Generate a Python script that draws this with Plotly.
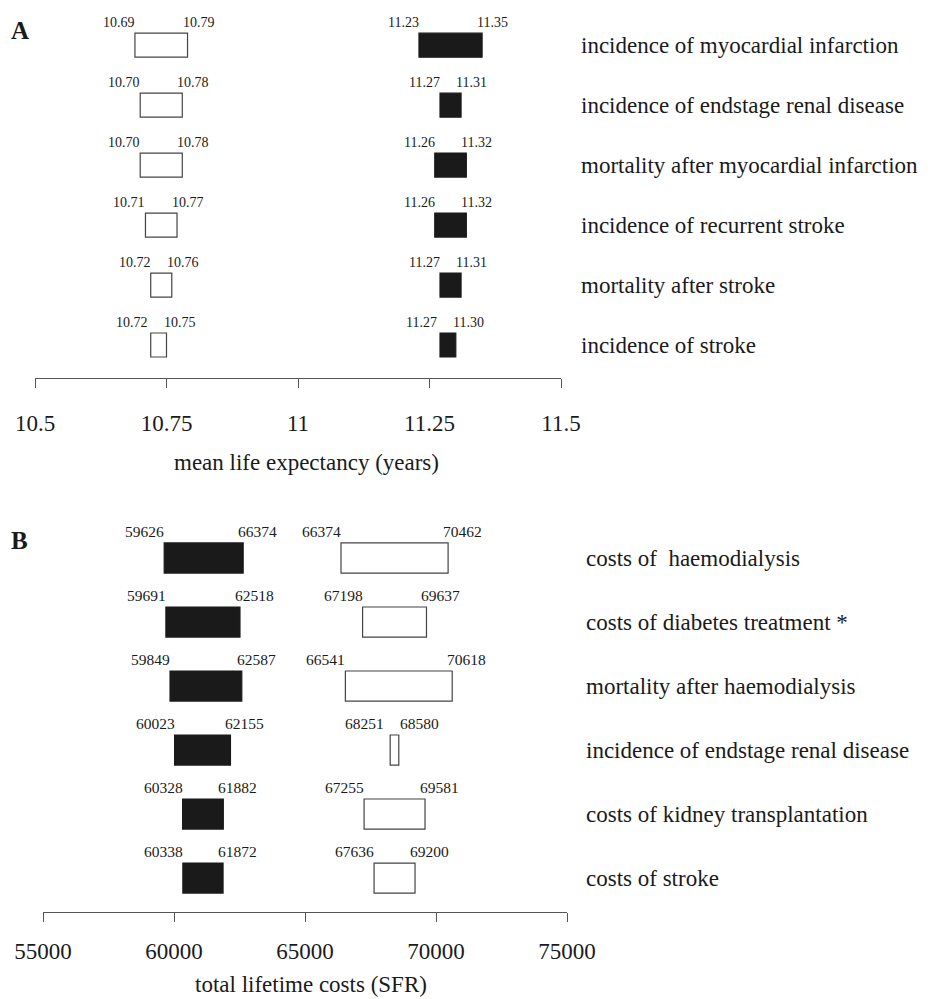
import plotly.graph_objects as go

# ---------------- Data ----------------
# Panel A: mean life expectancy (years)
a_params = ["incidence of myocardial infarction",
            "incidence of endstage renal disease",
            "mortality after myocardial infarction",
            "incidence of recurrent stroke",
            "mortality after stroke",
            "incidence of stroke"]
a_open_low = [10.69, 10.70, 10.70, 10.71, 10.72, 10.72]
a_open_high = [10.79, 10.78, 10.78, 10.77, 10.76, 10.75]
a_fill_low = [11.23, 11.27, 11.26, 11.26, 11.27, 11.27]
a_fill_high = [11.35, 11.31, 11.32, 11.32, 11.31, 11.30]
a_ticks = [10.5, 10.75, 11, 11.25, 11.5]
a_ticktext = ["10.5", "10.75", "11", "11.25", "11.5"]

# Panel B: total lifetime costs (SFR)
b_params = ["costs of  haemodialysis",
            "costs of diabetes treatment *",
            "mortality after haemodialysis",
            "incidence of endstage renal disease",
            "costs of kidney transplantation",
            "costs of stroke"]
b_fill_low = [59626, 59691, 59849, 60023, 60328, 60338]
b_fill_high = [62640, 62518, 62587, 62155, 61882, 61872]   # drawn bar ends
b_fill_low_lbl = ["59626", "59691", "59849", "60023", "60328", "60338"]
b_fill_high_lbl = ["66374", "62518", "62587", "62155", "61882", "61872"]  # printed labels
b_open_low = [66374, 67198, 66541, 68251, 67255, 67636]
b_open_high = [70462, 69637, 70618, 68580, 69581, 69200]
b_ticks = [55000, 60000, 65000, 70000, 75000]
b_ticktext = ["55000", "60000", "65000", "70000", "75000"]

# ---------------- Layout constants ----------------
OFF = 8                      # page body margin in the browser
W, H = 939 - OFF, 999 - OFF  # figure size so that it fits the window
FONT = "Liberation Serif"
INK = "#1a1a1a"


def px(xp):   # window x pixel -> paper fraction
    return (xp - OFF) / W


def py(yp):   # window y pixel -> paper fraction
    return 1 - (yp - OFF) / H


xa_px = (35, 561)
xb_px = (43, 567)
ya_px = (8, 378)
yb_px = (510, 912)
a_range = (10.5, 11.5)
b_range = (55000, 75000)
a_yrange = [5.55, -0.62]
b_yrange = [5.53, -0.75]
a_bw = 0.40
b_bw = 0.47

rows = list(range(6))

fig = go.Figure()


def add_bars(low, high, xref, yref, filled, width):
    fig.add_trace(go.Bar(
        orientation="h", y=rows, x=[h - l for l, h in zip(low, high)], base=low,
        width=width, xaxis=xref, yaxis=yref,
        marker=dict(color=INK if filled else "white",
                    line=dict(color=INK if filled else "#444", width=1.2)),
        showlegend=False, hoverinfo="skip"))


add_bars(a_open_low, a_open_high, "x", "y", False, a_bw)
add_bars(a_fill_low, a_fill_high, "x", "y", True, a_bw)
add_bars(b_fill_low, b_fill_high, "x2", "y2", True, b_bw)
add_bars(b_open_low, b_open_high, "x2", "y2", False, b_bw)

annotations = []


def value_labels(low, high, low_txt, high_txt, xref, yref, bw, ppu, fsize, yshift):
    for i, (l, h, lt, ht) in enumerate(zip(low, high, low_txt, high_txt)):
        w = (h - l) * ppu
        ls, rs = 2.0, -7.0
        gap = w + rs - ls
        if gap < 12:
            extra = (12 - gap) / 2
            ls -= extra
            rs += extra
        ytop = i - bw / 2
        annotations.append(dict(x=l, y=ytop, xref=xref, yref=yref, text=lt,
                                showarrow=False, xanchor="right", yanchor="bottom",
                                xshift=ls, yshift=yshift,
                                font=dict(family=FONT, size=fsize, color=INK)))
        annotations.append(dict(x=h, y=ytop, xref=xref, yref=yref, text=ht,
                                showarrow=False, xanchor="left", yanchor="bottom",
                                xshift=rs, yshift=yshift,
                                font=dict(family=FONT, size=fsize, color=INK)))


ppu_a = (xa_px[1] - xa_px[0]) / (a_range[1] - a_range[0])
ppu_b = (xb_px[1] - xb_px[0]) / (b_range[1] - b_range[0])

value_labels(a_open_low, a_open_high, [f"{v:.2f}" for v in a_open_low],
             [f"{v:.2f}" for v in a_open_high], "x", "y", a_bw, ppu_a, 14, 1)
value_labels(a_fill_low, a_fill_high, [f"{v:.2f}" for v in a_fill_low],
             [f"{v:.2f}" for v in a_fill_high], "x", "y", a_bw, ppu_a, 14, 1)
value_labels(b_fill_low, b_fill_high, b_fill_low_lbl, b_fill_high_lbl,
             "x2", "y2", b_bw, ppu_b, 15.5, 1)
value_labels(b_open_low, b_open_high, [str(v) for v in b_open_low],
             [str(v) for v in b_open_high], "x2", "y2", b_bw, ppu_b, 15.5, 1)

# category labels on the right
for i, p in enumerate(a_params):
    annotations.append(dict(x=px(579), y=i, xref="paper", yref="y", text=p,
                            showarrow=False, xanchor="left", yanchor="middle",
                            font=dict(family=FONT, size=23, color=INK)))
for i, p in enumerate(b_params):
    annotations.append(dict(x=px(584), y=i, xref="paper", yref="y2", text=p,
                            showarrow=False, xanchor="left", yanchor="middle",
                            font=dict(family=FONT, size=23, color=INK)))

# panel letters
annotations.append(dict(x=px(9), y=py(30), xref="paper", yref="paper", text="<b>A</b>",
                        showarrow=False, xanchor="left", yanchor="middle",
                        font=dict(family=FONT, size=25, color=INK)))
annotations.append(dict(x=px(9), y=py(540), xref="paper", yref="paper", text="<b>B</b>",
                        showarrow=False, xanchor="left", yanchor="middle",
                        font=dict(family=FONT, size=25, color=INK)))

# axis titles
annotations.append(dict(x=px(306), y=py(462), xref="paper", yref="paper",
                        text="mean life expectancy (years)", showarrow=False,
                        xanchor="center", yanchor="middle",
                        font=dict(family=FONT, size=23, color=INK)))
annotations.append(dict(x=px(311), y=py(984), xref="paper", yref="paper",
                        text="total lifetime costs (SFR)", showarrow=False,
                        xanchor="center", yanchor="middle",
                        font=dict(family=FONT, size=23, color=INK)))

axis_common = dict(showline=True, linecolor="#555", linewidth=1.2, ticks="outside",
                   ticklen=9, tickcolor="#555", tickwidth=1.2, showgrid=False,
                   zeroline=False, fixedrange=True, automargin=False,
                   tickfont=dict(family=FONT, size=23, color=INK))

fig.update_layout(
    width=W, height=H,
    margin=dict(l=0, r=0, t=0, b=0, autoexpand=False),
    paper_bgcolor="white", plot_bgcolor="white",
    barmode="overlay",
    xaxis=dict(domain=[px(xa_px[0]), px(xa_px[1])], range=list(a_range), anchor="y",
               tickvals=a_ticks, ticktext=a_ticktext, ticklabelstandoff=15, **axis_common),
    yaxis=dict(domain=[py(ya_px[1]), py(ya_px[0])], range=a_yrange, anchor="x",
               visible=False, fixedrange=True, automargin=False),
    xaxis2=dict(domain=[px(xb_px[0]), px(xb_px[1])], range=list(b_range), anchor="y2",
                tickvals=b_ticks, ticktext=b_ticktext, ticklabelstandoff=9, **axis_common),
    yaxis2=dict(domain=[py(yb_px[1]), py(yb_px[0])], range=b_yrange, anchor="x2",
                visible=False, fixedrange=True, automargin=False),
    annotations=annotations,
)

fig.write_html("out.html")
